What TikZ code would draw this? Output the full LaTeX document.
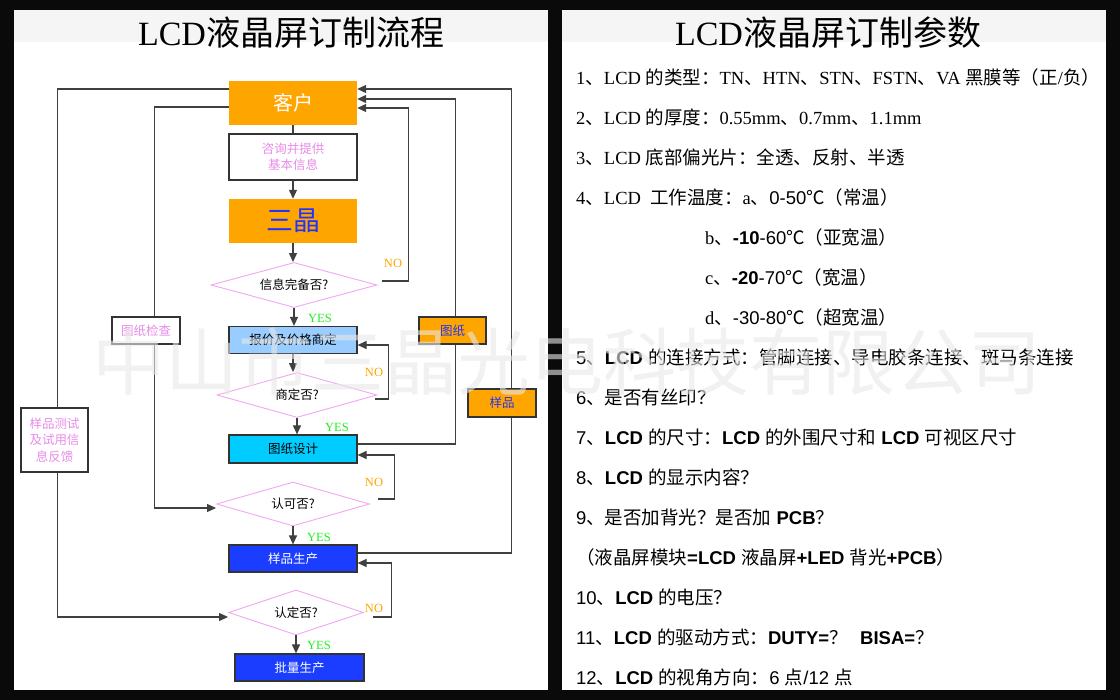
\documentclass[tikz,border=0pt]{standalone}
\usepackage{fontspec}
\setmainfont{Noto Sans CJK SC}
\newfontfamily\tmrf{Liberation Serif}
\newfontfamily\arsf{Liberation Sans}
\usetikzlibrary{shapes.geometric,arrows.meta,calc}
\definecolor{bgblack}{HTML}{0A0A0A}
\definecolor{band}{HTML}{F5F5F5}
\definecolor{org}{HTML}{FFA500}
\definecolor{lblue}{HTML}{99CCFF}
\definecolor{cyanbox}{HTML}{00CCFF}
\definecolor{bluebox}{HTML}{1A3DFF}
\definecolor{bluetxt}{HTML}{2233FF}
\definecolor{pinktxt}{HTML}{E98BE9}
\definecolor{pinkline}{HTML}{F0A8F0}
\definecolor{yesgreen}{HTML}{22EE22}
\definecolor{wmark}{HTML}{E8E8E8}
\newcommand\myfs[1]{\fontsize{#1}{#1}\selectfont}
\newcommand\tmr[1]{{\tmrf #1}}
\newcommand\ars[1]{{\arsf #1}}
\newcommand\arb[1]{{\arsf\bfseries #1}}
\begin{document}
\begin{tikzpicture}[x=1pt,y=-1pt,
  box/.style={rectangle,inner sep=0pt,minimum width=128pt,line width=1.2pt,draw=black!80,font=\myfs{12.5}},
  obox/.style={rectangle,inner sep=0pt,minimum width=128pt,fill=org,draw=none},
  lbox/.style={rectangle,inner sep=0pt,line width=1.2pt,draw=black!80,font=\myfs{12.5}},
  dia/.style={diamond,draw=pinkline,line width=0.9pt,inner sep=0pt,aspect=3.7,font=\myfs{12.5}},
  ln/.style={draw=black!75,line width=1.2pt},
  arr/.style={-{Triangle[length=9pt,width=8pt]}},
  yes/.style={text=yesgreen,font=\tmrf\myfs{12.5},inner sep=0pt},
  no/.style={text=org,font=\tmrf\myfs{12.5},inner sep=0pt},
  rt/.style={anchor=west,inner sep=0pt,font=\myfs{18.5}},
  ttl/.style={inner sep=0pt,font=\myfs{34}}]
\fill[bgblack] (0,0) rectangle (1120,700);
\useasboundingbox (0,0) rectangle (1120,700);
% panels
\fill[white] (13.6,10) rectangle (547.5,690);
\fill[white] (562,10) rectangle (1106,690);
\fill[band] (13.6,10) rectangle (547.5,42);
\fill[band] (562,10) rectangle (1106,42);
\node[ttl] (t1) at (291,33) {\tmr{LCD}液晶屏订制流程};
\node[ttl] (t2) at (828,33) {\tmr{LCD}液晶屏订制参数};
% flowchart main nodes
\node[obox,minimum height=44pt,text=white,font=\myfs{20}] (kh) at (293,103) {客户};
\node[box,minimum height=46pt,text=pinktxt,align=center,font=\myfs{12.5}] (zx) at (293,157) {咨询并提供\\[3pt]基本信息};
\node[obox,minimum height=44pt,text=bluetxt,font=\myfs{27}] (sj) at (293,221) {三晶};
\node[dia,minimum width=166pt,minimum height=45pt] (d1) at (294,285) {信息完备否?};
\node[box,fill=lblue,minimum height=27pt] (bj) at (293,340) {报价及价格商定};
\node[dia,minimum width=160pt,minimum height=45pt] (d2) at (297,395) {商定否?};
\node[box,fill=cyanbox,minimum height=28pt] (tz) at (293,449) {图纸设计};
\node[dia,minimum width=153pt,minimum height=44pt] (d3) at (293,504) {认可否?};
\node[box,fill=bluebox,text=white,minimum height=27pt] (yp) at (293,558.5) {样品生产};
\node[dia,minimum width=135pt,minimum height=45pt] (d4) at (296,612.5) {认定否?};
\node[box,fill=bluebox,text=white,minimum width=129pt,minimum height=27pt] (pl) at (299.5,667.5) {批量生产};
% vertical flow
\draw[ln] (kh.south) -- (zx.north);
\draw[ln,arr] (zx.south) -- (sj.north);
\draw[ln,arr] (sj.south) -- (sj.south |- d1.north);
\draw[ln,arr] (d1.south) -- (d1.south |- bj.north);
\draw[ln,arr] (bj.south) -- (bj.south |- d2.north);
\draw[ln,arr] (d2.south) -- (d2.south |- tz.north);
\draw[ln,arr] (d3.south) -- (d3.south |- yp.north);
\draw[ln,arr] (d4.south) -- (d4.south |- pl.north);
% loops
\draw[ln,arr] ($(d1.east)+(5,-4)$) -- ++(26,0) |- ($(kh.east)+(0,5)$);
\draw[ln,arr] ($(d2.east)+(-2,4)$) -- ++(13,0) |- ($(bj.east)+(0,5)$);
\draw[ln,arr] ($(tz.east)+(0,-5)$) -- ++(98,0) |- ($(kh.east)+(0,-4)$);
\draw[ln,arr] ($(d3.east)+(8.5,-5)$) -- ++(16,0) |- ($(tz.east)+(0,6)$);
\draw[ln,arr] ($(kh.west)+(0,4)$) -- ++(-74,0) |- ($(d3.west)+(0,4)$);
\draw[ln,arr] ($(yp.east)+(0,-5.5)$) -- ++(154,0) |- ($(kh.east)+(0,-14)$);
\draw[ln,arr] ($(d4.east)+(9.5,4.5)$) -- ++(18,0) |- ($(yp.east)+(0,4.5)$);
\draw[ln,arr] ($(kh.west)+(0,-14)$) -- ++(-171,0) |- ($(d4.west)+(0,4.5)$);
% labels
\node[yes] (y1) at (320,318) {YES};
\node[yes] (y2) at (337,427) {YES};
\node[yes] (y3) at (319,537) {YES};
\node[yes] (y4) at (319,645) {YES};
\node[no] (n1) at (393,263) {NO};
\node[no] (n2) at (374,372) {NO};
\node[no] (n3) at (374,482) {NO};
\node[no] (n4) at (374,608) {NO};
\node[lbox,fill=white,text=pinktxt,minimum width=68pt,minimum height=27pt] (tj) at (146,330.5) {图纸检查};
\node[lbox,fill=org,text=bluetxt,minimum width=67pt,minimum height=27pt] (tzl) at (452.5,330.5) {图纸};
\node[lbox,fill=org,text=bluetxt,minimum width=68pt,minimum height=28pt] (ypl) at (502,403) {样品};
\node[lbox,fill=white,text=pinktxt,minimum width=67pt,minimum height=64pt,align=center] (fk) at (54.5,440) {样品测试\\[4pt]及试用信\\[4pt]息反馈};
% right text
\node[rt] (r1) at (576,77) {\tmr{1}、\tmr{LCD }的类型：\tmr{TN}、\tmr{HTN}、\tmr{STN}、\tmr{FSTN}、\tmr{VA }黑膜等（正\tmr{/}负）};
\node[rt] (r2) at (576,117) {\tmr{2}、\tmr{LCD }的厚度：\tmr{0.55mm}、\tmr{0.7mm}、\tmr{1.1mm}};
\node[rt] (r3) at (576,157) {\tmr{3}、\tmr{LCD }底部偏光片：全透、反射、半透};
\node[rt] (r4) at (576,197) {\tmr{4}、\tmr{LCD\ \ }工作温度：\tmr{a}、\ars{0-50}℃（常温）};
\node[rt] (r4b) at (705,237) {\tmr{b}、\arb{-10}\ars{-60}℃（亚宽温）};
\node[rt] (r4c) at (705,277) {\tmr{c}、\arb{-20}\ars{-70}℃（宽温）};
\node[rt] (r4d) at (705,317) {\tmr{d}、\ars{-30-80}℃（超宽温）};
\node[rt] (r5) at (576,357) {\ars{5}、\arb{LCD }的连接方式：管脚连接、导电胶条连接、斑马条连接};
\node[rt] (r6) at (576,397) {\ars{6}、是否有丝印？};
\node[rt] (r7) at (576,437) {\ars{7}、\arb{LCD }的尺寸：\arb{LCD }的外围尺寸和\arb{\ LCD }可视区尺寸};
\node[rt] (r8) at (576,477) {\ars{8}、\arb{LCD }的显示内容？};
\node[rt] (r9) at (576,517) {\ars{9}、是否加背光？是否加\arb{\ PCB}？};
\node[rt] (r9b) at (576,557) {（液晶屏模块\arb{=LCD }液晶屏\arb{+LED }背光\arb{+PCB}）};
\node[rt] (r10) at (576,597) {\ars{10}、\arb{LCD }的电压？};
\node[rt] (r11) at (576,637) {\ars{11}、\arb{LCD }的驱动方式：\arb{DUTY=}？\ \ \ \arb{BISA=}？};
\node[rt] (r12) at (576,677) {\ars{12}、\arb{LCD }的视角方向：\ars{6 }点\ars{/12 }点};
% watermark
\node[text=wmark,opacity=0.6,inner sep=0pt,font=\myfs{73}] (wm) at (567,362) {中山市三晶光电科技有限公司};
\end{tikzpicture}
\end{document}
